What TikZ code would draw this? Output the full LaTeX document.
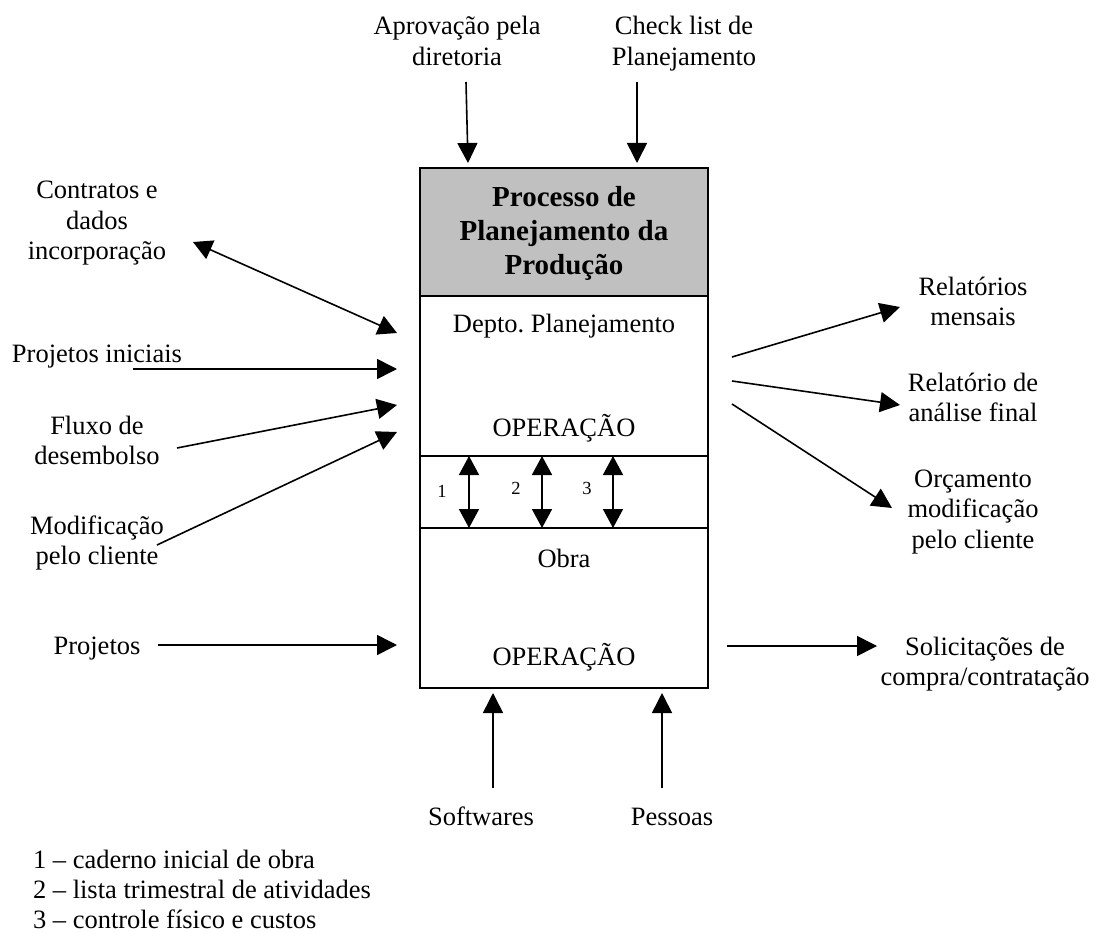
\documentclass[tikz,border=0pt]{standalone}
\usepackage{fontspec}
\setmainfont{Liberation Serif}
\usetikzlibrary{arrows.meta}
\definecolor{boxgray}{RGB}{192,192,192}
\newcommand{\topst}{\rule{0pt}{25pt}}
\newcommand{\topbst}{\rule{0pt}{28pt}}
\begin{document}
\begin{tikzpicture}[x=1pt,y=-1pt,
  lbl/.style={inner sep=0pt, outer sep=0pt, align=center,
    font=\fontsize{26.5}{30.5}\selectfont},
  ttl/.style={inner sep=0pt, outer sep=0pt, align=center,
    font=\fontsize{29}{33.5}\selectfont\bfseries},
  num/.style={inner sep=0pt, font=\fontsize{18.5}{22}\selectfont},
  part/.style={draw, line width=1.8pt, inner sep=0pt, outer sep=0pt,
    minimum width=288pt, anchor=north west},
  arr/.style={line width=1.6pt, -{Triangle[length=20pt,width=20pt]}},
  darr/.style={line width=1.6pt, {Triangle[length=19pt,width=20pt]}-{Triangle[length=19pt,width=20pt]}}
]
\useasboundingbox (0,0) rectangle (1097,933);

% central process block
\node[part, fill=boxgray, minimum height=128pt] (title) at (420,168) {};
\node[part, minimum height=160pt] (depto) at (420,296) {};
\node[part, minimum height=72pt] (mid) at (420,456) {};
\node[part, minimum height=160pt] (obra) at (420,528) {};

\node[ttl, anchor=north] (ttltxt) at (564,179) {\topbst Processo de\\Planejamento da\\Produção};
\node[lbl, anchor=base] (deptotxt) at (564,332) {Depto.\ Planejamento};
\node[lbl, anchor=base] (op1) at (564,436) {OPERAÇÃO};
\node[lbl, anchor=base] (obratxt) at (564,567) {Obra};
\node[lbl, anchor=base] (op2) at (564,665) {OPERAÇÃO};

% links between planning and site
\node[num, anchor=base] (n1) at (442,497) {1};
\node[num, anchor=base] (n2) at (516,494) {2};
\node[num, anchor=base] (n3) at (587,494) {3};
\coordinate (l1t) at (469,456); \coordinate (l1b) at (469,528);
\coordinate (l2t) at (542,456); \coordinate (l2b) at (542,528);
\coordinate (l3t) at (613,456); \coordinate (l3b) at (613,528);
\draw[darr] (l1t) -- (l1b);
\draw[darr] (l2t) -- (l2b);
\draw[darr] (l3t) -- (l3b);

% controls (top)
\node[lbl, anchor=north] (aprov) at (457,10) {\topst Aprovação pela\\diretoria};
\node[lbl, anchor=north] (check) at (684,10) {\topst Check list de\\Planejamento};
\coordinate (aprovS) at (466,82);  \coordinate (aprovE) at (468,163);
\coordinate (checkS) at (637,82);  \coordinate (checkE) at (637,163);
\draw[arr] (aprovS) -- (aprovE);
\draw[arr] (checkS) -- (checkE);

% inputs (left)
\node[lbl, anchor=north] (contr) at (97,174) {\topst Contratos e\\dados\\incorporação};
\node[lbl, anchor=base] (projin) at (97,362) {Projetos iniciais};
\node[lbl, anchor=north] (fluxo) at (97,409) {\topst Fluxo de\\desembolso};
\node[lbl, anchor=north] (modif) at (97,509) {\topst Modificação\\pelo cliente};
\node[lbl, anchor=base] (proj) at (97,654) {Projetos};

\coordinate (contrS) at (193,242); \coordinate (contrE) at (397,333);
\coordinate (projinS) at (133,369); \coordinate (projinE) at (397,369);
\coordinate (fluxoS) at (177,448); \coordinate (fluxoE) at (397,405);
\coordinate (modifS) at (157,545); \coordinate (modifE) at (397,432);
\coordinate (projS) at (158,645); \coordinate (projE) at (397,645);
\draw[darr] (contrS) -- (contrE);
\draw[arr] (projinS) -- (projinE);
\draw[arr] (fluxoS) -- (fluxoE);
\draw[arr] (modifS) -- (modifE);
\draw[arr] (projS) -- (projE);

% outputs (right)
\node[lbl, anchor=north] (relm) at (973,270) {\topst Relatórios\\mensais};
\node[lbl, anchor=north] (relf) at (973,366) {\topst Relatório de\\análise final};
\node[lbl, anchor=north] (orc) at (973,462) {\topst Orçamento\\modificação\\pelo cliente};
\node[lbl, anchor=north] (solic) at (985,630) {\topst Solicitações de\\compra/contratação};

\coordinate (relmS) at (732,357); \coordinate (relmE) at (900,307);
\coordinate (relfS) at (732,381); \coordinate (relfE) at (900,405);
\coordinate (orcS) at (732,404); \coordinate (orcE) at (892,508);
\coordinate (solicS) at (727,646); \coordinate (solicE) at (877,646);
\draw[arr] (relmS) -- (relmE);
\draw[arr] (relfS) -- (relfE);
\draw[arr] (orcS) -- (orcE);
\draw[arr] (solicS) -- (solicE);

% mechanisms (bottom)
\node[lbl, anchor=base] (soft) at (481,825) {Softwares};
\node[lbl, anchor=base] (pess) at (672,825) {Pessoas};
\coordinate (softS) at (493,788); \coordinate (softE) at (493,693);
\coordinate (pessS) at (662,788); \coordinate (pessE) at (662,693);
\draw[arr] (softS) -- (softE);
\draw[arr] (pessS) -- (pessE);

% legend
\node[lbl, anchor=base west] (leg1) at (33,868) {1 – caderno inicial de obra};
\node[lbl, anchor=base west] (leg2) at (33,898) {2 – lista trimestral de atividades};
\node[lbl, anchor=base west] (leg3) at (33,928) {3 – controle físico e custos};
\end{tikzpicture}
\end{document}
